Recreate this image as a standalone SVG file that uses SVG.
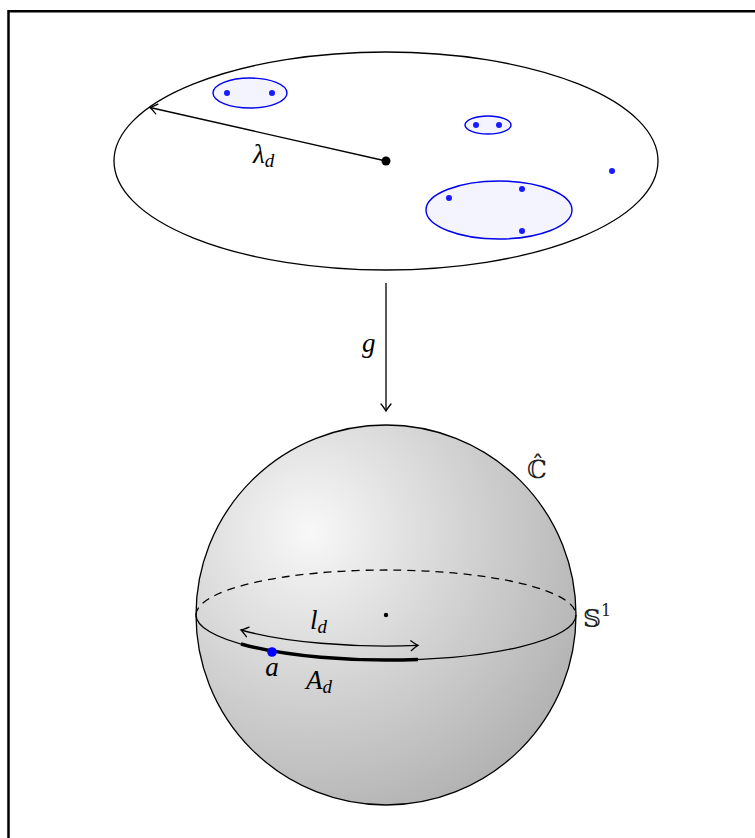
<svg xmlns="http://www.w3.org/2000/svg" width="755" height="838" viewBox="0 0 755 838">
<style>
.k{fill:none;stroke:#000;stroke-width:1.3}
.b{fill:#f4f4ff;stroke:#0000ee;stroke-width:1.4}
.bd{fill:#1a1aff}
.t{font-family:"Liberation Serif","DejaVu Serif",serif;font-style:italic;font-size:27px;fill:#000}
.sub{font-size:19px}
.s{font-family:"DejaVu Serif","DejaVu Sans",serif;font-size:25px;fill:#222}
</style>
<defs>
<radialGradient id="ball" cx="0.3" cy="0.28" r="0.8" gradientUnits="objectBoundingBox">
<stop offset="0" stop-color="#f8f8f8"/>
<stop offset="0.5" stop-color="#d4d4d4"/>
<stop offset="1" stop-color="#b2b2b2"/>
</radialGradient>
<marker id="ah" viewBox="-9 -6 11 12" markerWidth="11" markerHeight="12" refX="0" refY="0" orient="auto-start-reverse" markerUnits="userSpaceOnUse">
<path d="M-7,-5 Q-2,-1 0,0 Q-2,1 -7,5" fill="none" stroke="#000" stroke-width="1.3" stroke-linecap="round"/>
</marker>
</defs>
<rect x="0" y="0" width="755" height="838" fill="#fff"/>
<path d="M8.5,838 V11.3 H755" fill="none" stroke="#000" stroke-width="2.5"/>

<g id="plane">
<ellipse cx="386" cy="161" rx="272" ry="109" class="k"/>
<circle cx="386" cy="161" r="4.5" fill="#000"/>
</g>
<g id="cluster1">
<ellipse cx="250" cy="93" rx="37" ry="15" class="b"/>
<circle cx="227" cy="93" r="3" class="bd"/>
<circle cx="272" cy="93" r="3" class="bd"/>
</g>
<g id="cluster2">
<ellipse cx="488" cy="125" rx="23" ry="9" class="b"/>
<circle cx="476" cy="125" r="3" class="bd"/>
<circle cx="499" cy="125" r="3" class="bd"/>
</g>
<g id="cluster3">
<ellipse cx="499" cy="210" rx="73" ry="29" class="b"/>
<circle cx="449" cy="198" r="3" class="bd"/>
<circle cx="522" cy="189" r="3" class="bd"/>
<circle cx="522" cy="231" r="3" class="bd"/>
</g>
<g id="lonepoint">
<circle cx="612" cy="171" r="3" class="bd"/>
</g>

<g id="sphere">
<circle cx="386" cy="615" r="190" fill="url(#ball)" stroke="#000" stroke-width="1.3"/>
<path d="M196,615 A190,45 0 0 1 576,615" class="k" stroke-dasharray="8,6"/>
<path d="M196,615 A190,45 0 0 0 576,615" class="k"/>
<circle cx="386" cy="615" r="2.2" fill="#000"/>
<path d="M241,644 A190,45 0 0 0 418,659.4" fill="none" stroke="#000" stroke-width="3.5"/>
<circle cx="272" cy="652" r="4.8" fill="#0000ff"/>
<text x="527" y="478" class="s">ℂ̂</text>
<text x="583" y="627" class="s">𝕊<tspan font-size="16" dy="-11">1</tspan></text>
<text x="272" y="676" class="t" text-anchor="middle">a</text>
<text x="306" y="689" class="t">A<tspan class="sub" dy="4">d</tspan></text>
<text x="310" y="629" class="t">l<tspan class="sub" dy="4">d</tspan></text>
</g>

<g id="connectors">
<path d="M386,161 L150,107.5" class="k" marker-end="url(#ah)"/>
<text x="253" y="163" class="t">λ<tspan class="sub" dy="4">d</tspan></text>
<path d="M386,283 L386,411" class="k" marker-end="url(#ah)"/>
<text x="362" y="352" class="t">g</text>
<path d="M241,630 A190,45 0 0 0 418,645.4" class="k" marker-start="url(#ah)" marker-end="url(#ah)"/>
</g>
</svg>
